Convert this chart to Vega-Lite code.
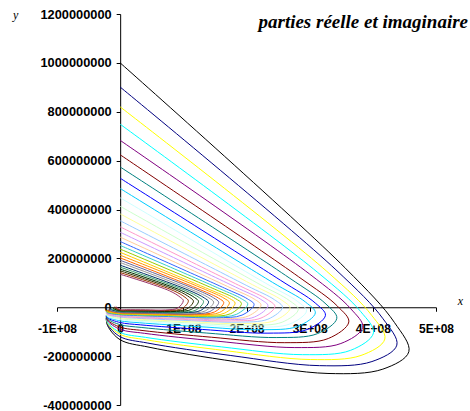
{
"$schema": "https://vega.github.io/schema/vega-lite/v6.json",
"width": 379, "height": 391,
"autosize": {"type": "none"},
"padding": {"left": 57, "top": 14, "right": 34, "bottom": 6},
"background": "white",
"title": {"text": "parties réelle et imaginaire", "anchor": "end", "frame": "group", "orient": "top", "font": "Liberation Serif", "fontStyle": "italic", "fontWeight": "bold", "fontSize": 19, "color": "black", "dx": 32, "dy": 33, "baseline": "middle", "offset": 0},
"config": {"view": {"stroke": null}},
"data": {"values": [
{"s":1,"i":1,"x":0,"y":1000000000},{"s":1,"i":2,"x":356500000,"y":160000000},{"s":1,"i":3,"x":434200000,"y":-62300000},{"s":1,"i":4,"x":457000000,"y":-182000000},{"s":1,"i":5,"x":415900000,"y":-253200000},{"s":1,"i":6,"x":329000000,"y":-271000000},{"s":1,"i":7,"x":182800000,"y":-222700000},{"s":1,"i":8,"x":45700000,"y":-163400000},{"s":1,"i":9,"x":0,"y":-133000000},{"s":1,"i":10,"x":-20000000,"y":-74900000},{"s":1,"i":11,"x":-22000000,"y":-45000000},
{"s":2,"i":1,"x":0,"y":901000000},{"s":2,"i":2,"x":341600000,"y":153200000},{"s":2,"i":3,"x":416100000,"y":-47100000},{"s":2,"i":4,"x":438000000,"y":-155000000},{"s":2,"i":5,"x":398600000,"y":-222200000},{"s":2,"i":6,"x":315400000,"y":-239000000},{"s":2,"i":7,"x":175200000,"y":-197500000},{"s":2,"i":8,"x":43800000,"y":-146600000},{"s":2,"i":9,"x":0,"y":-120500000},{"s":2,"i":10,"x":-20000000,"y":-69500000},{"s":2,"i":11,"x":-22000000,"y":-43300000},
{"s":3,"i":1,"x":0,"y":820000000},{"s":3,"i":2,"x":326800000,"y":147600000},{"s":3,"i":3,"x":398100000,"y":-32800000},{"s":3,"i":4,"x":419000000,"y":-130000000},{"s":3,"i":5,"x":381300000,"y":-197200000},{"s":3,"i":6,"x":301700000,"y":-214000000},{"s":3,"i":7,"x":167600000,"y":-177900000},{"s":3,"i":8,"x":41900000,"y":-133600000},{"s":3,"i":9,"x":0,"y":-110900000},{"s":3,"i":10,"x":-20000000,"y":-65200000},{"s":3,"i":11,"x":-22000000,"y":-41700000},
{"s":4,"i":1,"x":0,"y":749000000},{"s":4,"i":2,"x":312800000,"y":142300000},{"s":4,"i":3,"x":381000000,"y":-18400000},{"s":4,"i":4,"x":401000000,"y":-105000000},{"s":4,"i":5,"x":364900000,"y":-176200000},{"s":4,"i":6,"x":288700000,"y":-194000000},{"s":4,"i":7,"x":160400000,"y":-162200000},{"s":4,"i":8,"x":40100000,"y":-123200000},{"s":4,"i":9,"x":0,"y":-103200000},{"s":4,"i":10,"x":-20000000,"y":-61500000},{"s":4,"i":11,"x":-22000000,"y":-40000000},
{"s":5,"i":1,"x":0,"y":683000000},{"s":5,"i":2,"x":299500000,"y":136600000},{"s":5,"i":3,"x":364800000,"y":-5500000},{"s":5,"i":4,"x":384000000,"y":-82000000},{"s":5,"i":5,"x":349400000,"y":-148400000},{"s":5,"i":6,"x":276500000,"y":-165000000},{"s":5,"i":7,"x":153600000,"y":-138800000},{"s":5,"i":8,"x":38400000,"y":-106700000},{"s":5,"i":9,"x":0,"y":-90200000},{"s":5,"i":10,"x":-20000000,"y":-56000000},{"s":5,"i":11,"x":-22000000,"y":-38400000},
{"s":6,"i":1,"x":0,"y":624000000},{"s":6,"i":2,"x":282400000,"y":124800000},{"s":6,"i":3,"x":343900000,"y":4700000},{"s":6,"i":4,"x":362000000,"y":-60000000},{"s":6,"i":5,"x":329400000,"y":-128000000},{"s":6,"i":6,"x":260600000,"y":-145000000},{"s":6,"i":7,"x":144800000,"y":-122700000},{"s":6,"i":8,"x":36200000,"y":-95400000},{"s":6,"i":9,"x":0,"y":-81400000},{"s":6,"i":10,"x":-20000000,"y":-51900000},{"s":6,"i":11,"x":-22000000,"y":-36700000},
{"s":7,"i":1,"x":0,"y":574000000},{"s":7,"i":2,"x":267500000,"y":120500000},{"s":7,"i":3,"x":325900000,"y":12900000},{"s":7,"i":4,"x":343000000,"y":-45000000},{"s":7,"i":5,"x":312100000,"y":-108200000},{"s":7,"i":6,"x":247000000,"y":-124000000},{"s":7,"i":7,"x":137200000,"y":-105600000},{"s":7,"i":8,"x":34300000,"y":-82900000},{"s":7,"i":9,"x":0,"y":-71300000},{"s":7,"i":10,"x":-20000000,"y":-47400000},{"s":7,"i":11,"x":-22000000,"y":-35100000},
{"s":8,"i":1,"x":0,"y":528000000},{"s":8,"i":2,"x":253500000,"y":110900000},{"s":8,"i":3,"x":308800000,"y":17400000},{"s":8,"i":4,"x":325000000,"y":-33000000},{"s":8,"i":5,"x":295800000,"y":-91400000},{"s":8,"i":6,"x":234000000,"y":-106000000},{"s":8,"i":7,"x":130000000,"y":-90800000},{"s":8,"i":8,"x":32500000,"y":-72100000},{"s":8,"i":9,"x":0,"y":-62500000},{"s":8,"i":10,"x":-20000000,"y":-43300000},{"s":8,"i":11,"x":-22000000,"y":-33400000},
{"s":9,"i":1,"x":0,"y":486000000},{"s":9,"i":2,"x":241000000,"y":102100000},{"s":9,"i":3,"x":293600000,"y":20800000},{"s":9,"i":4,"x":309000000,"y":-23000000},{"s":9,"i":5,"x":281200000,"y":-78200000},{"s":9,"i":6,"x":222500000,"y":-92000000},{"s":9,"i":7,"x":123600000,"y":-79200000},{"s":9,"i":8,"x":30900000,"y":-63500000},{"s":9,"i":9,"x":0,"y":-55500000},{"s":9,"i":10,"x":-20000000,"y":-39900000},{"s":9,"i":11,"x":-22000000,"y":-31800000},
{"s":10,"i":1,"x":0,"y":448000000},{"s":10,"i":2,"x":230100000,"y":98600000},{"s":10,"i":3,"x":280300000,"y":24800000},{"s":10,"i":4,"x":295000000,"y":-15000000},{"s":10,"i":5,"x":268500000,"y":-68600000},{"s":10,"i":6,"x":212400000,"y":-82000000},{"s":10,"i":7,"x":118000000,"y":-71000000},{"s":10,"i":8,"x":29500000,"y":-57500000},{"s":10,"i":9,"x":0,"y":-50600000},{"s":10,"i":10,"x":-20000000,"y":-37100000},{"s":10,"i":11,"x":-22000000,"y":-30100000},
{"s":11,"i":1,"x":0,"y":413000000},{"s":11,"i":2,"x":220000000,"y":95000000},{"s":11,"i":3,"x":267900000,"y":27400000},{"s":11,"i":4,"x":282000000,"y":-9000000},{"s":11,"i":5,"x":256600000,"y":-61000000},{"s":11,"i":6,"x":203000000,"y":-74000000},{"s":11,"i":7,"x":112800000,"y":-64400000},{"s":11,"i":8,"x":28200000,"y":-52700000},{"s":11,"i":9,"x":0,"y":-46700000},{"s":11,"i":10,"x":-20000000,"y":-34600000},{"s":11,"i":11,"x":-22000000,"y":-28400000},
{"s":12,"i":1,"x":0,"y":382000000},{"s":12,"i":2,"x":209800000,"y":91700000},{"s":12,"i":3,"x":255600000,"y":29500000},{"s":12,"i":4,"x":269000000,"y":-4000000},{"s":12,"i":5,"x":244800000,"y":-54400000},{"s":12,"i":6,"x":193700000,"y":-67000000},{"s":12,"i":7,"x":107600000,"y":-58700000},{"s":12,"i":8,"x":26900000,"y":-48500000},{"s":12,"i":9,"x":0,"y":-43300000},{"s":12,"i":10,"x":-20000000,"y":-32400000},{"s":12,"i":11,"x":-22000000,"y":-26800000},
{"s":13,"i":1,"x":0,"y":354000000},{"s":13,"i":2,"x":200500000,"y":88500000},{"s":13,"i":3,"x":244200000,"y":31000000},{"s":13,"i":4,"x":257000000,"y":0},{"s":13,"i":5,"x":233900000,"y":-48800000},{"s":13,"i":6,"x":185000000,"y":-61000000},{"s":13,"i":7,"x":102800000,"y":-53800000},{"s":13,"i":8,"x":25700000,"y":-44900000},{"s":13,"i":9,"x":0,"y":-40300000},{"s":13,"i":10,"x":-20000000,"y":-30300000},{"s":13,"i":11,"x":-22000000,"y":-25100000},
{"s":14,"i":1,"x":0,"y":329000000},{"s":14,"i":2,"x":191100000,"y":85500000},{"s":14,"i":3,"x":232800000,"y":31900000},{"s":14,"i":4,"x":245000000,"y":3000000},{"s":14,"i":5,"x":223000000,"y":-44200000},{"s":14,"i":6,"x":176400000,"y":-56000000},{"s":14,"i":7,"x":98000000,"y":-49600000},{"s":14,"i":8,"x":24500000,"y":-41700000},{"s":14,"i":9,"x":0,"y":-37700000},{"s":14,"i":10,"x":-20000000,"y":-28300000},{"s":14,"i":11,"x":-22000000,"y":-23500000},
{"s":15,"i":1,"x":0,"y":307000000},{"s":15,"i":2,"x":182500000,"y":82900000},{"s":15,"i":3,"x":222300000,"y":32900000},{"s":15,"i":4,"x":234000000,"y":6000000},{"s":15,"i":5,"x":212900000,"y":-39600000},{"s":15,"i":6,"x":168500000,"y":-51000000},{"s":15,"i":7,"x":93600000,"y":-45400000},{"s":15,"i":8,"x":23400000,"y":-38600000},{"s":15,"i":9,"x":0,"y":-35100000},{"s":15,"i":10,"x":-20000000,"y":-26300000},{"s":15,"i":11,"x":-22000000,"y":-21800000},
{"s":16,"i":1,"x":0,"y":287000000},{"s":16,"i":2,"x":173900000,"y":80400000},{"s":16,"i":3,"x":211900000,"y":34000000},{"s":16,"i":4,"x":223000000,"y":9000000},{"s":16,"i":5,"x":202900000,"y":-35800000},{"s":16,"i":6,"x":160600000,"y":-47000000},{"s":16,"i":7,"x":89200000,"y":-42100000},{"s":16,"i":8,"x":22300000,"y":-36100000},{"s":16,"i":9,"x":0,"y":-33000000},{"s":16,"i":10,"x":-20000000,"y":-24600000},{"s":16,"i":11,"x":-22000000,"y":-20200000},
{"s":17,"i":1,"x":0,"y":269000000},{"s":17,"i":2,"x":165400000,"y":78000000},{"s":17,"i":3,"x":201400000,"y":34500000},{"s":17,"i":4,"x":212000000,"y":11000000},{"s":17,"i":5,"x":192900000,"y":-32200000},{"s":17,"i":6,"x":152600000,"y":-43000000},{"s":17,"i":7,"x":84800000,"y":-38700000},{"s":17,"i":8,"x":21200000,"y":-33500000},{"s":17,"i":9,"x":0,"y":-30800000},{"s":17,"i":10,"x":-20000000,"y":-22700000},{"s":17,"i":11,"x":-22000000,"y":-18500000},
{"s":18,"i":1,"x":0,"y":253000000},{"s":18,"i":2,"x":157600000,"y":75900000},{"s":18,"i":3,"x":191900000,"y":35000000},{"s":18,"i":4,"x":202000000,"y":13000000},{"s":18,"i":5,"x":183800000,"y":-29400000},{"s":18,"i":6,"x":145400000,"y":-40000000},{"s":18,"i":7,"x":80800000,"y":-36200000},{"s":18,"i":8,"x":20200000,"y":-31600000},{"s":18,"i":9,"x":0,"y":-29200000},{"s":18,"i":10,"x":-20000000,"y":-21100000},{"s":18,"i":11,"x":-22000000,"y":-16900000},
{"s":19,"i":1,"x":0,"y":238000000},{"s":19,"i":2,"x":149800000,"y":73800000},{"s":19,"i":3,"x":182400000,"y":35600000},{"s":19,"i":4,"x":192000000,"y":15000000},{"s":19,"i":5,"x":174700000,"y":-26600000},{"s":19,"i":6,"x":138200000,"y":-37000000},{"s":19,"i":7,"x":76800000,"y":-33700000},{"s":19,"i":8,"x":19200000,"y":-29700000},{"s":19,"i":9,"x":0,"y":-27600000},{"s":19,"i":10,"x":-20000000,"y":-19400000},{"s":19,"i":11,"x":-22000000,"y":-15200000},
{"s":20,"i":1,"x":0,"y":225000000},{"s":20,"i":2,"x":142000000,"y":72000000},{"s":20,"i":3,"x":172900000,"y":36300000},{"s":20,"i":4,"x":182000000,"y":17000000},{"s":20,"i":5,"x":165600000,"y":-23800000},{"s":20,"i":6,"x":131000000,"y":-34000000},{"s":20,"i":7,"x":72800000,"y":-31100000},{"s":20,"i":8,"x":18200000,"y":-27600000},{"s":20,"i":9,"x":0,"y":-25800000},{"s":20,"i":10,"x":-20000000,"y":-17700000},{"s":20,"i":11,"x":-22000000,"y":-13600000},
{"s":21,"i":1,"x":0,"y":213000000},{"s":21,"i":2,"x":134900000,"y":72400000},{"s":21,"i":3,"x":164400000,"y":37000000},{"s":21,"i":4,"x":173000000,"y":18000000},{"s":21,"i":5,"x":157400000,"y":-21200000},{"s":21,"i":6,"x":124600000,"y":-31000000},{"s":21,"i":7,"x":69200000,"y":-28500000},{"s":21,"i":8,"x":17300000,"y":-25500000},{"s":21,"i":9,"x":0,"y":-24000000},{"s":21,"i":10,"x":-19000000,"y":-16000000},{"s":21,"i":11,"x":-21000000,"y":-11900000},
{"s":22,"i":1,"x":0,"y":202000000},{"s":22,"i":2,"x":127900000,"y":70700000},{"s":22,"i":3,"x":155800000,"y":37100000},{"s":22,"i":4,"x":164000000,"y":19000000},{"s":22,"i":5,"x":149200000,"y":-19400000},{"s":22,"i":6,"x":118100000,"y":-29000000},{"s":22,"i":7,"x":65600000,"y":-26800000},{"s":22,"i":8,"x":16400000,"y":-24200000},{"s":22,"i":9,"x":0,"y":-22800000},{"s":22,"i":10,"x":-18000000,"y":-14500000},{"s":22,"i":11,"x":-20000000,"y":-10200000},
{"s":23,"i":1,"x":0,"y":192000000},{"s":23,"i":2,"x":121700000,"y":71000000},{"s":23,"i":3,"x":148200000,"y":37900000},{"s":23,"i":4,"x":156000000,"y":20000000},{"s":23,"i":5,"x":142000000,"y":-17600000},{"s":23,"i":6,"x":112300000,"y":-27000000},{"s":23,"i":7,"x":62400000,"y":-25100000},{"s":23,"i":8,"x":15600000,"y":-22800000},{"s":23,"i":9,"x":0,"y":-21600000},{"s":23,"i":10,"x":-17000000,"y":-13000000},{"s":23,"i":11,"x":-19000000,"y":-8600000},
{"s":24,"i":1,"x":0,"y":183000000},{"s":24,"i":2,"x":115400000,"y":69500000},{"s":24,"i":3,"x":140600000,"y":38000000},{"s":24,"i":4,"x":148000000,"y":21000000},{"s":24,"i":5,"x":134700000,"y":-15000000},{"s":24,"i":6,"x":106600000,"y":-24000000},{"s":24,"i":7,"x":59200000,"y":-22500000},{"s":24,"i":8,"x":14800000,"y":-20600000},{"s":24,"i":9,"x":0,"y":-19600000},{"s":24,"i":10,"x":-15000000,"y":-11200000},{"s":24,"i":11,"x":-17000000,"y":-6900000},
{"s":25,"i":1,"x":0,"y":172000000},{"s":25,"i":2,"x":109200000,"y":68800000},{"s":25,"i":3,"x":133000000,"y":38400000},{"s":25,"i":4,"x":140000000,"y":22000000},{"s":25,"i":5,"x":127400000,"y":-13200000},{"s":25,"i":6,"x":100800000,"y":-22000000},{"s":25,"i":7,"x":56000000,"y":-20700000},{"s":25,"i":8,"x":14000000,"y":-19000000},{"s":25,"i":9,"x":0,"y":-18200000},{"s":25,"i":10,"x":-14000000,"y":-9700000},{"s":25,"i":11,"x":-16000000,"y":-5300000},
{"s":26,"i":1,"x":0,"y":164000000},{"s":26,"i":2,"x":103000000,"y":68900000},{"s":26,"i":3,"x":125400000,"y":39100000},{"s":26,"i":4,"x":132000000,"y":23000000},{"s":26,"i":5,"x":120100000,"y":-11400000},{"s":26,"i":6,"x":95000000,"y":-20000000},{"s":26,"i":7,"x":52800000,"y":-18900000},{"s":26,"i":8,"x":13200000,"y":-17600000},{"s":26,"i":9,"x":0,"y":-16900000},{"s":26,"i":10,"x":-12000000,"y":-8100000},{"s":26,"i":11,"x":-14000000,"y":-3600000},
{"s":27,"i":1,"x":0,"y":156000000},{"s":27,"i":2,"x":96700000,"y":68600000},{"s":27,"i":3,"x":117800000,"y":39600000},{"s":27,"i":4,"x":124000000,"y":24000000},{"s":27,"i":5,"x":112800000,"y":-8800000},{"s":27,"i":6,"x":89300000,"y":-17000000},{"s":27,"i":7,"x":49600000,"y":-16200000},{"s":27,"i":8,"x":12400000,"y":-15100000},{"s":27,"i":9,"x":0,"y":-14600000},{"s":27,"i":10,"x":-10000000,"y":-6300000},{"s":27,"i":11,"x":-12000000,"y":-2000000},
{"s":28,"i":1,"x":0,"y":149000000},{"s":28,"i":2,"x":90500000,"y":68500000},{"s":28,"i":3,"x":110200000,"y":40200000},{"s":28,"i":4,"x":116000000,"y":25000000},{"s":28,"i":5,"x":105600000,"y":-7000000},{"s":28,"i":6,"x":83500000,"y":-15000000},{"s":28,"i":7,"x":46400000,"y":-14300000},{"s":28,"i":8,"x":11600000,"y":-13500000},{"s":28,"i":9,"x":0,"y":-13100000},{"s":28,"i":10,"x":-8000000,"y":-4700000},{"s":28,"i":11,"x":-10000000,"y":-300000},
{"s":29,"i":1,"x":0,"y":142000000},{"s":29,"i":2,"x":84200000,"y":68200000},{"s":29,"i":3,"x":102600000,"y":40800000},{"s":29,"i":4,"x":108000000,"y":26000000},{"s":29,"i":5,"x":98300000,"y":-5200000},{"s":29,"i":6,"x":77800000,"y":-13000000},{"s":29,"i":7,"x":43200000,"y":-12500000},{"s":29,"i":8,"x":10800000,"y":-11800000},{"s":29,"i":9,"x":0,"y":-11500000},{"s":29,"i":10,"x":-7000000,"y":-3000000},{"s":29,"i":11,"x":-9000000,"y":1400000},
{"s":30,"i":1,"x":0,"y":135000000},{"s":30,"i":2,"x":78000000,"y":67500000},{"s":30,"i":3,"x":95000000,"y":41200000},{"s":30,"i":4,"x":100000000,"y":27000000},{"s":30,"i":5,"x":91000000,"y":-3400000},{"s":30,"i":6,"x":72000000,"y":-11000000},{"s":30,"i":7,"x":40000000,"y":-10600000},{"s":30,"i":8,"x":10000000,"y":-10100000},{"s":30,"i":9,"x":0,"y":-9900000},{"s":30,"i":10,"x":-5000000,"y":-1400000},{"s":30,"i":11,"x":-7000000,"y":3000000}
]},
"mark": {"type": "line", "strokeWidth": 1, "interpolate": "catmull-rom"},
"encoding": {
"x": {"field": "x", "type": "quantitative",
 "scale": {"domain": [-100000000, 500000000], "nice": false, "zero": false},
 "axis": {"orient": "bottom", "offset": -97.75, "values": [-100000000, 0, 100000000, 200000000, 300000000, 400000000, 500000000],
  "labelExpr": "datum.value == 0 ? '0' : (datum.value / 100000000) + 'E+08'",
  "grid": false, "tickSize": 4, "labelPadding": 12, "labelFlush": false, "labelOverlap": false,
  "labelFont": "Liberation Sans", "labelFontWeight": "bold", "labelFontSize": 12, "labelColor": "black",
  "domainColor": "black", "tickColor": "black",
  "title": "x", "titleX": 403, "titleY": -7, "titleFont": "Liberation Serif", "titleFontStyle": "italic", "titleFontWeight": "normal", "titleFontSize": 12, "titleBaseline": "middle", "titleAlign": "center", "titleColor": "black"}},
"y": {"field": "y", "type": "quantitative",
 "scale": {"domain": [-400000000, 1200000000], "nice": false, "zero": false},
 "axis": {"orient": "left", "offset": -63.17, "values": [-400000000, -200000000, 0, 200000000, 400000000, 600000000, 800000000, 1000000000, 1200000000],
  "labelExpr": "'' + datum.value",
  "grid": false, "tickSize": 4, "labelPadding": 5, "labelFlush": false, "labelOverlap": false,
  "labelFont": "Liberation Sans", "labelFontWeight": "bold", "labelFontSize": 12.8, "labelColor": "black",
  "domainColor": "black", "tickColor": "black",
  "title": "y", "titleX": -105, "titleY": 0, "titleAngle": 0, "titleFont": "Liberation Serif", "titleFontStyle": "italic", "titleFontWeight": "normal", "titleFontSize": 12, "titleBaseline": "middle", "titleAlign": "center", "titleColor": "black"}},
"color": {"field": "s", "type": "nominal", "legend": null,
 "scale": {"domain": [1,2,3,4,5,6,7,8,9,10,11,12,13,14,15,16,17,18,19,20,21,22,23,24,25,26,27,28,29,30],
  "range": ["#000000","#000080","#FFFF00","#00FFFF","#800080","#800000","#008080","#0000FF","#00CCFF","#CCFFFF","#CCFFCC","#FFFF99","#99CCFF","#FF99CC","#CC99FF","#FFCC99","#3366FF","#33CCCC","#99CC00","#FFCC00","#FF9900","#FF6600","#666699","#969696","#003366","#339966","#003300","#333300","#993300","#993366"]}},
"order": {"field": "i", "type": "quantitative"}
}
}
